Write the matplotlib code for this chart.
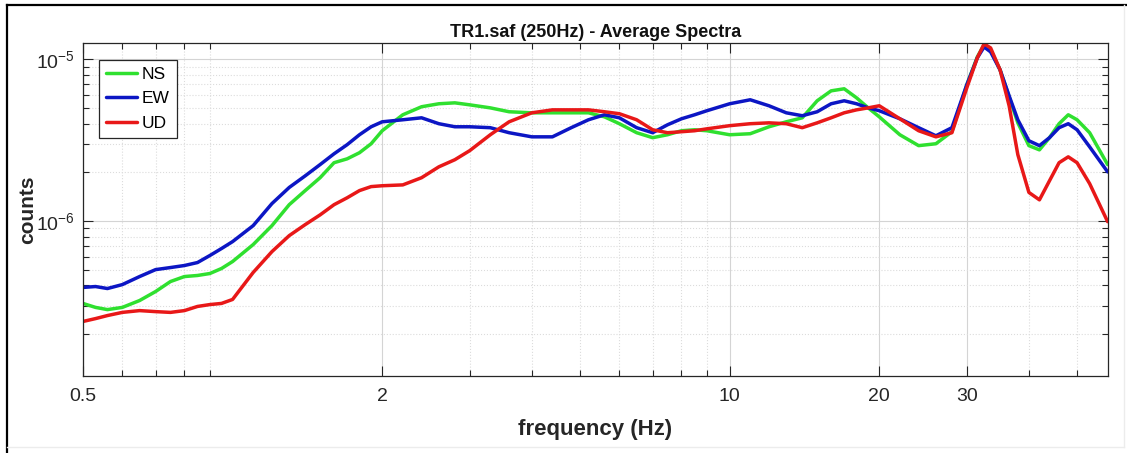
import matplotlib
matplotlib.use("Agg")
import matplotlib.pyplot as plt
from matplotlib.lines import Line2D
from matplotlib.ticker import FixedLocator, FixedFormatter, LogLocator, NullFormatter

plt.rcParams['font.family'] = ['Liberation Sans', 'DejaVu Sans']
plt.rcParams['mathtext.default'] = 'regular'

# average spectra, three components
freq = [0.5, 0.53, 0.56, 0.6, 0.65, 0.7, 0.75, 0.8, 0.85, 0.9, 0.95, 1.0,
        1.1, 1.2, 1.3, 1.4, 1.5, 1.6, 1.7, 1.8, 1.9, 2.0,
        2.2, 2.4, 2.6, 2.8, 3.0, 3.3, 3.6, 4.0, 4.4, 4.8, 5.2, 5.6, 6.0,
        6.5, 7.0, 7.5, 8.0, 8.5, 9.0, 10, 11, 12, 13, 14, 15, 16, 17, 18, 19, 20,
        22, 24, 26, 28, 30, 31.5, 32.5, 33.5, 35, 36.5, 38, 40, 42, 44, 46, 48,
        50, 53, 57.6]

ns = [3.09e-7, 2.92e-7, 2.83e-7, 2.92e-7, 3.22e-7, 3.66e-7, 4.22e-7, 4.53e-7, 4.60e-7, 4.73e-7, 5.08e-7, 5.61e-7,
      7.14e-7, 9.35e-7, 1.26e-6, 1.54e-6, 1.85e-6, 2.29e-6, 2.42e-6, 2.64e-6, 3.00e-6, 3.61e-6,
      4.53e-6, 5.08e-6, 5.30e-6, 5.37e-6, 5.22e-6, 5.00e-6, 4.73e-6, 4.66e-6, 4.66e-6, 4.66e-6, 4.66e-6, 4.40e-6, 3.99e-6,
      3.51e-6, 3.27e-6, 3.41e-6, 3.61e-6, 3.66e-6, 3.61e-6, 3.41e-6, 3.46e-6, 3.82e-6, 4.10e-6, 4.34e-6, 5.53e-6,
      6.37e-6, 6.56e-6, 5.77e-6, 5.00e-6, 4.40e-6,
      3.41e-6, 2.92e-6, 3.00e-6, 3.56e-6, 6.94e-6, 1.033e-5, 1.225e-5, 1.141e-5, 8.59e-6, 5.85e-6, 4.04e-6,
      2.92e-6, 2.75e-6, 3.27e-6, 3.99e-6, 4.53e-6, 4.22e-6, 3.51e-6, 2.23e-6]

ew = [3.88e-7, 3.93e-7, 3.82e-7, 4.04e-7, 4.53e-7, 5.00e-7, 5.15e-7, 5.30e-7, 5.53e-7, 6.11e-7, 6.75e-7, 7.45e-7,
      9.35e-7, 1.28e-6, 1.61e-6, 1.90e-6, 2.23e-6, 2.60e-6, 2.96e-6, 3.41e-6, 3.82e-6, 4.10e-6,
      4.22e-6, 4.34e-6, 3.99e-6, 3.82e-6, 3.82e-6, 3.77e-6, 3.51e-6, 3.31e-6, 3.31e-6, 3.77e-6, 4.22e-6, 4.53e-6, 4.34e-6,
      3.77e-6, 3.51e-6, 3.93e-6, 4.28e-6, 4.53e-6, 4.80e-6, 5.30e-6, 5.61e-6, 5.15e-6, 4.66e-6, 4.47e-6, 4.73e-6,
      5.30e-6, 5.53e-6, 5.30e-6, 5.00e-6, 4.80e-6,
      4.28e-6, 3.77e-6, 3.36e-6, 3.77e-6, 6.94e-6, 1.019e-5, 1.19e-5, 1.109e-5, 8.59e-6, 5.93e-6, 4.22e-6,
      3.13e-6, 2.92e-6, 3.27e-6, 3.77e-6, 3.99e-6, 3.66e-6, 2.87e-6, 2.01e-6]

ud = [2.39e-7, 2.49e-7, 2.60e-7, 2.72e-7, 2.79e-7, 2.75e-7, 2.72e-7, 2.79e-7, 2.96e-7, 3.04e-7, 3.09e-7, 3.27e-7,
      4.80e-7, 6.46e-7, 8.11e-7, 9.49e-7, 1.09e-6, 1.26e-6, 1.39e-6, 1.54e-6, 1.63e-6, 1.65e-6,
      1.67e-6, 1.85e-6, 2.16e-6, 2.39e-6, 2.72e-6, 3.41e-6, 4.10e-6, 4.66e-6, 4.86e-6, 4.86e-6, 4.86e-6, 4.73e-6, 4.60e-6,
      4.22e-6, 3.66e-6, 3.51e-6, 3.56e-6, 3.61e-6, 3.71e-6, 3.88e-6, 3.99e-6, 4.04e-6, 3.99e-6, 3.77e-6, 4.04e-6,
      4.34e-6, 4.66e-6, 4.86e-6, 5.00e-6, 5.15e-6,
      4.28e-6, 3.61e-6, 3.31e-6, 3.51e-6, 6.65e-6, 1.019e-5, 1.243e-5, 1.174e-5, 8.59e-6, 5.15e-6, 2.57e-6,
      1.50e-6, 1.35e-6, 1.77e-6, 2.29e-6, 2.49e-6, 2.29e-6, 1.70e-6, 9.90e-7]

xticks = [0.5, 2, 10, 20, 30]
xtick_labels = ['0.5', '2', '10', '20', '30']
xminor = [0.6, 0.7, 0.8, 0.9, 3, 4, 5, 6, 7, 8, 9, 40, 50]

fig = plt.figure(figsize=(11.27, 4.53), dpi=100)
ax = fig.add_axes([0.0736, 0.170, 0.9092, 0.734])

style = dict(lw=2.5, solid_joinstyle='round', solid_capstyle='round')
ax.plot(freq, ns, color='#2fe02f', label='NS', **style)
ax.plot(freq, ew, color='#0c16c4', label='EW', **style)
ax.plot(freq, ud, color='#e81818', label='UD', **style)

ax.set_xscale('log')
ax.set_yscale('log')
ax.set_xlim(0.5, 57.6)
ax.set_ylim(1.1e-7, 1.25e-5)

ax.xaxis.set_major_locator(FixedLocator(xticks))
ax.xaxis.set_major_formatter(FixedFormatter(xtick_labels))
ax.xaxis.set_minor_locator(FixedLocator(xminor))
ax.xaxis.set_minor_formatter(NullFormatter())
ax.yaxis.set_major_locator(LogLocator(base=10, numticks=10))
ax.yaxis.set_minor_locator(LogLocator(base=10, subs=range(2, 10), numticks=20))
ax.yaxis.set_minor_formatter(NullFormatter())

ax.tick_params(which='both', direction='in', top=True, right=True,
               color='#262626', labelcolor='#262626', width=0.8)
ax.tick_params(which='major', length=7, labelsize=14)
ax.tick_params(axis='x', which='major', pad=9)
ax.tick_params(axis='y', which='major', pad=6)
ax.tick_params(which='minor', length=4)

ax.grid(True, which='major', color='#d4d4d4', lw=0.8, ls='-')
ax.grid(True, which='minor', color='#dcdcdc', lw=0.8, ls=':')
ax.set_axisbelow(True)
for sp in ax.spines.values():
    sp.set_color('#262626')
    sp.set_linewidth(0.9)

ax.set_title('TR1.saf (250Hz) - Average Spectra', fontsize=13, fontweight='bold',
             color='#111111', pad=5)
ax.set_xlabel('frequency (Hz)', fontsize=16, fontweight='bold', color='#262626')
ax.set_ylabel('counts', fontsize=15, fontweight='bold', color='#262626')
ax.xaxis.set_label_coords(0.5, -0.128)
ax.yaxis.set_label_coords(-0.045, 0.5)

leg = ax.legend(loc='upper left', bbox_to_anchor=(0.0156, 0.951), borderaxespad=0,
                fontsize=12.5, handlelength=1.75, handletextpad=0.3, labelspacing=0.52,
                borderpad=0.42, fancybox=False, framealpha=1, edgecolor='#262626')
leg.get_frame().set_linewidth(0.9)

# outer frame of the figure window
W, H = 1127, 453
fig.add_artist(Line2D([6.5 / W, 6.5 / W], [0, 1 - 5 / H], color='black', lw=1.6))
fig.add_artist(Line2D([6.5 / W, 1], [1 - 5 / H, 1 - 5 / H], color='black', lw=1.6))
fig.add_artist(Line2D([1124 / W, 1124 / W], [1 - 447 / H, 1 - 5 / H], color='#ececec', lw=1))
fig.add_artist(Line2D([6.5 / W, 1124 / W], [1 - 447 / H, 1 - 447 / H], color='#ececec', lw=1))

fig.savefig('out.png', dpi=100)
